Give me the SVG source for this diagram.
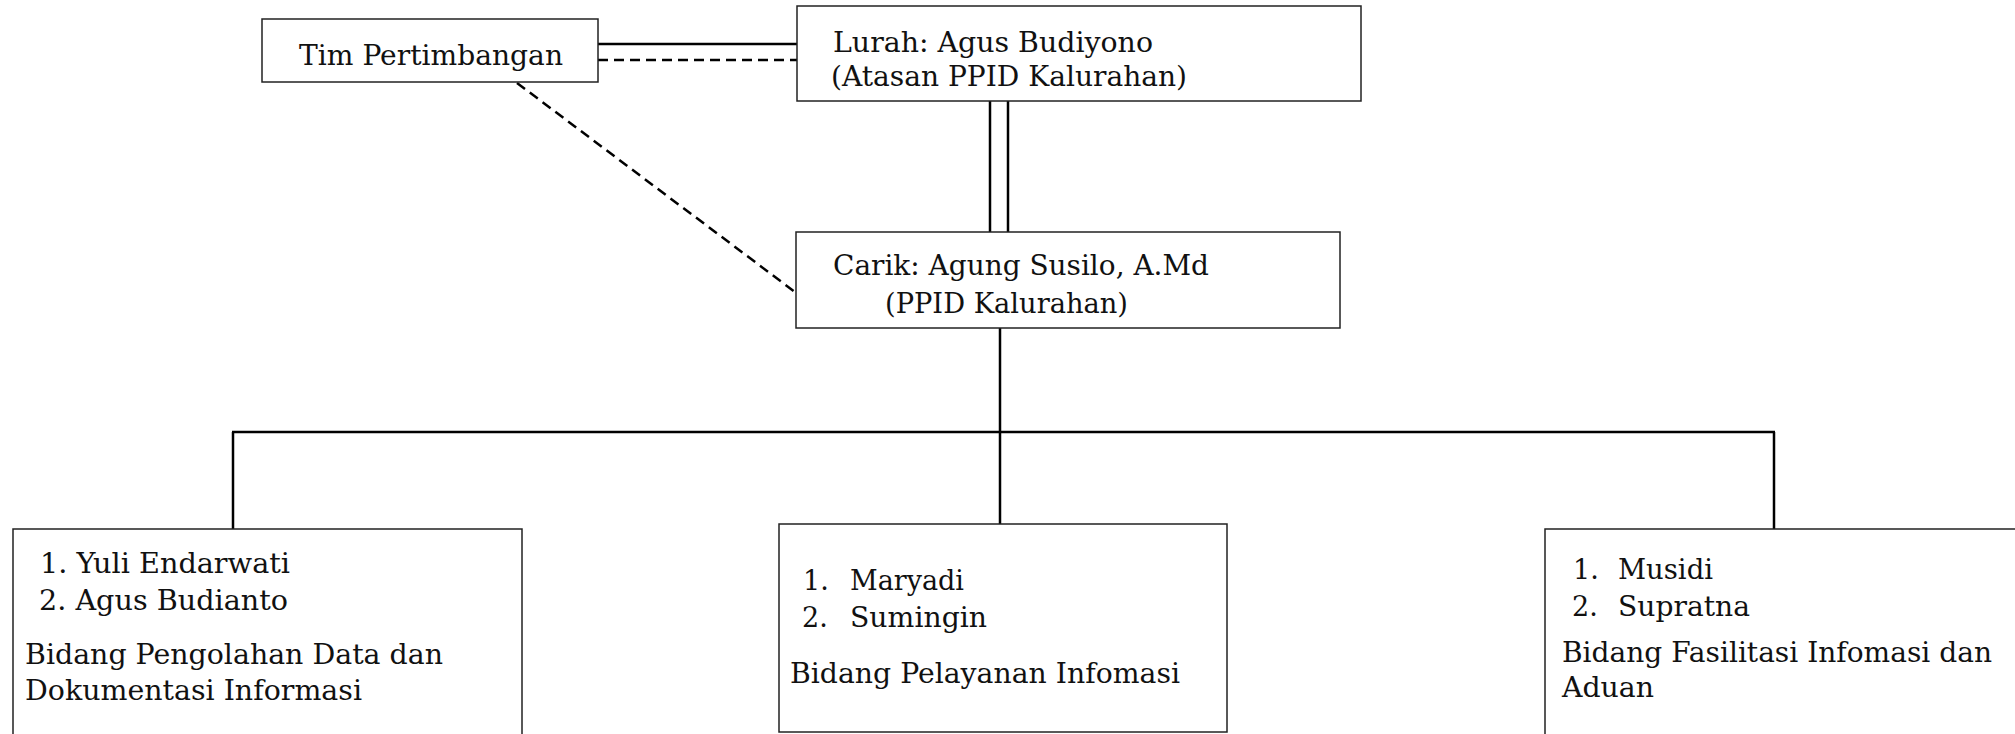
<svg xmlns="http://www.w3.org/2000/svg" width="2015" height="734" viewBox="0 0 2015 734">
<style>
.box{fill:#fff;stroke:#222;stroke-width:1.5}
.t{font-family:"DejaVu Serif","Liberation Serif",serif;font-size:27px;fill:#111}
.c{stroke:#000;stroke-width:2.5;fill:none}
.d{stroke:#000;stroke-width:2.5;fill:none;stroke-dasharray:10 6}
</style>
<rect width="2015" height="734" fill="#fff"/>
<g id="connectors">
<line class="c" x1="598" y1="44" x2="797" y2="44"/>
<line class="d" x1="598" y1="60" x2="797" y2="60"/>
<line class="c" x1="990" y1="101" x2="990" y2="232" stroke-width="2"/>
<line class="c" x1="1008" y1="101" x2="1008" y2="232" stroke-width="2"/>
<line class="d" x1="517" y1="83" x2="795" y2="292" stroke-width="2"/>
<line class="c" x1="1000" y1="328" x2="1000" y2="432"/>
<line class="c" x1="232" y1="432" x2="1775" y2="432"/>
<line class="c" x1="233" y1="432" x2="233" y2="529"/>
<line class="c" x1="1000" y1="432" x2="1000" y2="524"/>
<line class="c" x1="1774" y1="432" x2="1774" y2="529"/>
</g>
<g id="tim">
<rect class="box" x="262" y="19" width="336" height="63"/>
<text class="t" x="299" y="65" textLength="264" lengthAdjust="spacingAndGlyphs">Tim Pertimbangan</text>
</g>
<g id="lurah">
<rect class="box" x="797" y="6" width="564" height="95"/>
<text class="t" x="833" y="52" textLength="320" lengthAdjust="spacingAndGlyphs">Lurah: Agus Budiyono</text>
<text class="t" x="831" y="86" textLength="356" lengthAdjust="spacingAndGlyphs">(Atasan PPID Kalurahan)</text>
</g>
<g id="carik">
<rect class="box" x="796" y="232" width="544" height="96"/>
<text class="t" x="833" y="275" textLength="376" lengthAdjust="spacingAndGlyphs">Carik: Agung Susilo, A.Md</text>
<text class="t" x="885" y="313" textLength="243" lengthAdjust="spacingAndGlyphs">(PPID Kalurahan)</text>
</g>
<g id="bidang-pengolahan">
<rect class="box" x="13" y="529" width="509" height="220"/>
<text class="t" x="40" y="573" textLength="250" lengthAdjust="spacingAndGlyphs">1. Yuli Endarwati</text>
<text class="t" x="39" y="610" textLength="249" lengthAdjust="spacingAndGlyphs">2. Agus Budianto</text>
<text class="t" x="25" y="664" textLength="418" lengthAdjust="spacingAndGlyphs">Bidang Pengolahan Data dan</text>
<text class="t" x="25" y="700" textLength="337" lengthAdjust="spacingAndGlyphs">Dokumentasi Informasi</text>
</g>
<g id="bidang-pelayanan">
<rect class="box" x="779" y="524" width="448" height="208"/>
<text class="t" x="803" y="590">1.</text>
<text class="t" x="850" y="590" textLength="114" lengthAdjust="spacingAndGlyphs">Maryadi</text>
<text class="t" x="802" y="627">2.</text>
<text class="t" x="850" y="627" textLength="137" lengthAdjust="spacingAndGlyphs">Sumingin</text>
<text class="t" x="790" y="683" textLength="390" lengthAdjust="spacingAndGlyphs">Bidang Pelayanan Infomasi</text>
</g>
<g id="bidang-fasilitasi">
<rect class="box" x="1545" y="529" width="500" height="220"/>
<text class="t" x="1573" y="579">1.</text>
<text class="t" x="1618" y="579" textLength="95" lengthAdjust="spacingAndGlyphs">Musidi</text>
<text class="t" x="1572" y="616">2.</text>
<text class="t" x="1618" y="616" textLength="132" lengthAdjust="spacingAndGlyphs">Supratna</text>
<text class="t" x="1562" y="662" textLength="430" lengthAdjust="spacingAndGlyphs">Bidang Fasilitasi Infomasi dan</text>
<text class="t" x="1562" y="697" textLength="92" lengthAdjust="spacingAndGlyphs">Aduan</text>
</g>
</svg>
